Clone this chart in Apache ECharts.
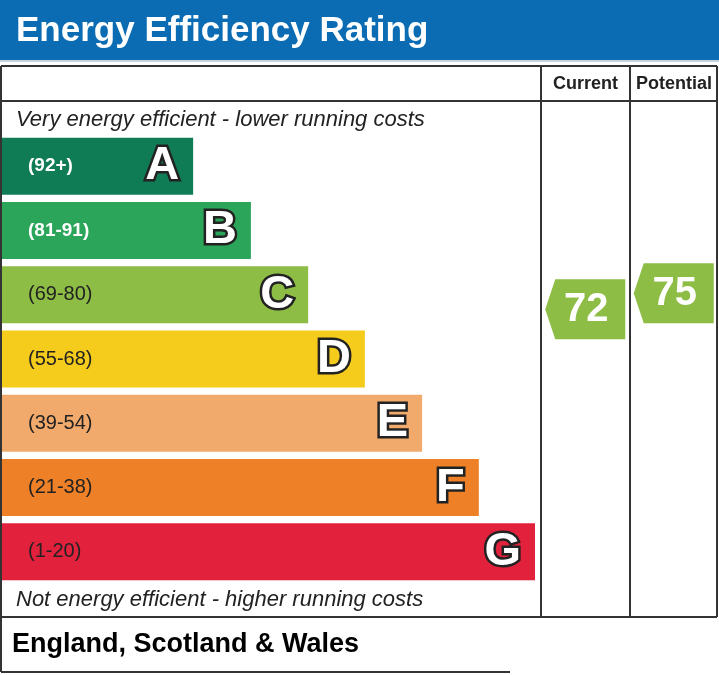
<!DOCTYPE html>
<html><head><meta charset="utf-8">
<script src="https://cdn.jsdelivr.net/npm/echarts@6/dist/echarts.min.js"></script>
<style>html,body{margin:0;padding:0;background:#fff}#c{width:719px;height:675px}</style>
</head><body><div id="c"></div>
<script>
const bands = ['A','B','C','D','E','F','G'];
const ranges = ['(92+)','(81-91)','(69-80)','(55-68)','(39-54)','(21-38)','(1-20)'];
const barLengths = [36.1, 46.9, 57.6, 68.2, 78.9, 89.5, 100];
const ratingColumns = ['Current','Potential'];
const ratings = [72, 75];

const bandColors = ['#107c55','#2ba55a','#8dbd45','#f5cb1c','#f2aa6c','#ee8128','#e2213c'];
const rangeTextColors = ['#fff','#fff','#222','#222','#222','#222','#222'];
const ratingColor = '#8dbd45';
const FONT = '"Liberation Sans", Arial, sans-serif';

const chart = echarts.init(document.getElementById('c'), null, {renderer:'canvas'});

const line = (x1,y1,x2,y2,w) => ({type:'line', shape:{x1,y1,x2,y2}, style:{stroke:'#333', lineWidth:w||2}, z:10});

chart.setOption({
  animation:false,
  backgroundColor:'#fff',
  grid:[
    {left:0, top:134, width:535, height:450},
    {left:541, top:160, width:177, height:426.7}
  ],
  xAxis:[
    {type:'value', min:0, max:100, show:false, gridIndex:0},
    {type:'category', data:ratingColumns, show:false, gridIndex:1}
  ],
  yAxis:[
    {type:'category', data:bands, inverse:true, show:false, gridIndex:0},
    {type:'value', min:20, max:100, show:false, gridIndex:1}
  ],
  graphic:[
    {type:'rect', shape:{x:0,y:0,width:719,height:60}, style:{fill:'#0b6cb3'}, z:1},
    {type:'rect', shape:{x:0,y:60,width:719,height:2}, style:{fill:'#c9d3dc'}, z:1},
    {type:'text', x:16, y:31, style:{text:'Energy Efficiency Rating', fill:'#fff', font:'bold 35px '+FONT, textVerticalAlign:'middle'}, z:5},
    line(1,66,717,66), line(1,66,1,672), line(717,66,717,617),
    line(1,101,717,101), line(541,66,541,617), line(630,66,630,617),
    line(1,617,717,617), line(1,672,510,672),
    {type:'text', x:585.5, y:84, style:{text:'Current', fill:'#222', font:'bold 18px '+FONT, textAlign:'center', textVerticalAlign:'middle'}, z:5},
    {type:'text', x:674, y:84, style:{text:'Potential', fill:'#222', font:'bold 18px '+FONT, textAlign:'center', textVerticalAlign:'middle'}, z:5},
    {type:'text', x:16, y:120, style:{text:'Very energy efficient - lower running costs', fill:'#222', font:'italic 22px '+FONT, textVerticalAlign:'middle'}, z:5},
    {type:'text', x:16, y:600, style:{text:'Not energy efficient - higher running costs', fill:'#222', font:'italic 22px '+FONT, textVerticalAlign:'middle'}, z:5},
    {type:'text', x:12, y:645, style:{text:'England, Scotland & Wales', fill:'#000', font:'bold 27px '+FONT, textVerticalAlign:'middle'}, z:5}
  ],
  series:[
    {
      type:'bar', xAxisIndex:0, yAxisIndex:0, barWidth:57, z:3,
      data: barLengths.map((v,i)=>({value:v, itemStyle:{color:bandColors[i]},
        label:{show:true, position:'insideLeft', distance:28, formatter:ranges[i],
          color:rangeTextColors[i], fontFamily:FONT, fontSize: i<2?19:20, fontWeight: i<2?'bold':'normal'}}))
    },
    {
      type:'bar', xAxisIndex:0, yAxisIndex:0, barWidth:57, barGap:'-100%', z:4,
      itemStyle:{color:'rgba(0,0,0,0)'},
      data: barLengths.map((v,i)=>({value:v,
        label:{show:true, position:'insideRight', distance:14, formatter:bands[i],
          color:'#fff', fontFamily:FONT, fontSize:47, fontWeight:'bold',
          textBorderColor:'#222', textBorderWidth:5}}))
    },
    {
      type:'custom', xAxisIndex:1, yAxisIndex:1, z:5,
      data: ratings.map((r,i)=>[i, r]),
      renderItem:function(params, api){
        const p = api.coord([api.value(0), api.value(1)]);
        const w=80, h=60, t=10;
        const x0=p[0]-w/2, x1=p[0]+w/2, y0=p[1]-h/2, y1=p[1]+h/2;
        return {type:'group', children:[
          {type:'polygon', shape:{points:[[x0+t,y0],[x1,y0],[x1,y1],[x0+t,y1],[x0,p[1]]]}, style:{fill:ratingColor}},
          {type:'text', x:p[0]+1, y:p[1]+1, style:{text:String(api.value(1)), fill:'#fff', font:'bold 40px '+FONT, textAlign:'center', textVerticalAlign:'middle'}}
        ]};
      }
    }
  ]
});
</script></body></html>
